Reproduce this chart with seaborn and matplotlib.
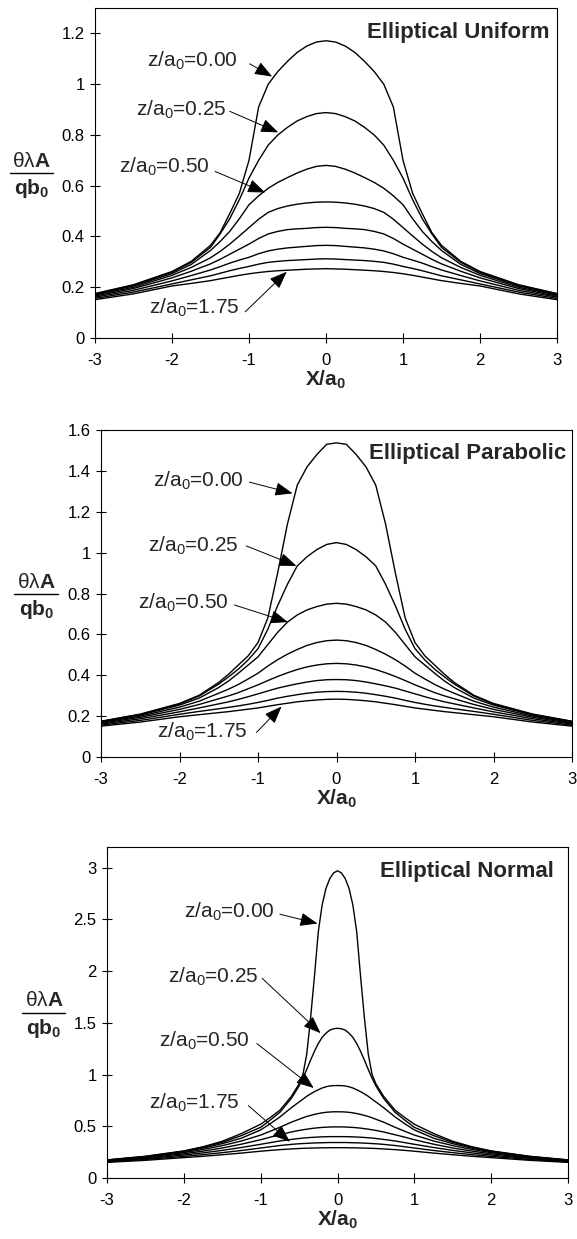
import numpy as np
import pandas as pd
import matplotlib
matplotlib.use("Agg")
import matplotlib.pyplot as plt
import seaborn as sns
from matplotlib.ticker import FuncFormatter, MultipleLocator

# ---------------- data ----------------
Z_LEVELS = [0.00, 0.25, 0.50, 0.75, 1.00, 1.25, 1.50, 1.75]

X_UNI = [-3, -2.5, -2, -1.75, -1.5, -1.375, -1.25, -1.125, -1, -0.875, -0.75, -0.625, -0.5, -0.375, -0.25, -0.125, 0,
         0.125, 0.25, 0.375, 0.5, 0.625, 0.75, 0.875, 1, 1.125, 1.25, 1.375, 1.5, 1.75, 2, 2.5, 3]
UNI_Z000 = [0.175, 0.210, 0.262, 0.302, 0.365, 0.415, 0.490, 0.570, 0.700, 0.910, 1.000, 1.050, 1.090, 1.125, 1.150, 1.166, 1.171,
            1.166, 1.150, 1.125, 1.090, 1.050, 1.000, 0.910, 0.700, 0.570, 0.490, 0.415, 0.365, 0.302, 0.262, 0.210, 0.175]
UNI_Z025 = [0.174, 0.208, 0.259, 0.298, 0.357, 0.410, 0.470, 0.545, 0.630, 0.700, 0.760, 0.800, 0.830, 0.855, 0.872, 0.884, 0.888,
            0.884, 0.872, 0.855, 0.830, 0.800, 0.760, 0.700, 0.630, 0.545, 0.470, 0.410, 0.357, 0.298, 0.259, 0.208, 0.174]
UNI_Z050 = [0.172, 0.205, 0.254, 0.290, 0.345, 0.380, 0.420, 0.470, 0.525, 0.560, 0.590, 0.613, 0.632, 0.650, 0.665, 0.676, 0.680,
            0.676, 0.665, 0.650, 0.632, 0.613, 0.590, 0.560, 0.525, 0.470, 0.420, 0.380, 0.345, 0.290, 0.254, 0.205, 0.172]
UNI_Z075 = [0.169, 0.200, 0.247, 0.278, 0.316, 0.341, 0.370, 0.402, 0.435, 0.468, 0.495, 0.510, 0.520, 0.527, 0.532, 0.535, 0.536,
            0.535, 0.532, 0.527, 0.520, 0.510, 0.495, 0.468, 0.435, 0.402, 0.370, 0.341, 0.316, 0.278, 0.247, 0.200, 0.169]
UNI_Z100 = [0.165, 0.195, 0.237, 0.263, 0.292, 0.310, 0.330, 0.350, 0.370, 0.392, 0.410, 0.420, 0.427, 0.430, 0.432, 0.435, 0.436,
            0.435, 0.432, 0.430, 0.427, 0.420, 0.410, 0.392, 0.370, 0.350, 0.330, 0.310, 0.292, 0.263, 0.237, 0.195, 0.165]
UNI_Z125 = [0.161, 0.188, 0.225, 0.246, 0.268, 0.281, 0.295, 0.307, 0.318, 0.332, 0.343, 0.350, 0.355, 0.358, 0.361, 0.364, 0.365,
            0.364, 0.361, 0.358, 0.355, 0.350, 0.343, 0.332, 0.318, 0.307, 0.295, 0.281, 0.268, 0.246, 0.225, 0.188, 0.161]
UNI_Z150 = [0.156, 0.181, 0.213, 0.229, 0.245, 0.255, 0.265, 0.274, 0.282, 0.291, 0.298, 0.302, 0.305, 0.307, 0.309, 0.311, 0.312,
            0.311, 0.309, 0.307, 0.305, 0.302, 0.298, 0.291, 0.282, 0.274, 0.265, 0.255, 0.245, 0.229, 0.213, 0.181, 0.156]
UNI_Z175 = [0.151, 0.174, 0.205, 0.215, 0.226, 0.233, 0.240, 0.247, 0.253, 0.258, 0.262, 0.265, 0.267, 0.269, 0.271, 0.272, 0.273,
            0.272, 0.271, 0.269, 0.267, 0.265, 0.262, 0.258, 0.253, 0.247, 0.240, 0.233, 0.226, 0.215, 0.205, 0.174, 0.151]

X_PAR = [-3, -2.5, -2, -1.75, -1.5, -1.375, -1.25, -1.125, -1, -0.875, -0.75, -0.625, -0.5, -0.375, -0.25, -0.125, 0,
         0.125, 0.25, 0.375, 0.5, 0.625, 0.75, 0.875, 1, 1.125, 1.25, 1.375, 1.5, 1.75, 2, 2.5, 3]
PAR_Z000 = [0.175, 0.210, 0.262, 0.302, 0.365, 0.405, 0.450, 0.495, 0.560, 0.680, 0.900, 1.140, 1.330, 1.420, 1.480, 1.530, 1.537,
            1.530, 1.480, 1.420, 1.330, 1.140, 0.900, 0.680, 0.560, 0.495, 0.450, 0.405, 0.365, 0.302, 0.262, 0.210, 0.175]
PAR_Z025 = [0.174, 0.208, 0.259, 0.298, 0.357, 0.392, 0.430, 0.475, 0.530, 0.625, 0.740, 0.845, 0.935, 0.980, 1.015, 1.040, 1.049,
            1.040, 1.015, 0.980, 0.935, 0.845, 0.740, 0.625, 0.530, 0.475, 0.430, 0.392, 0.357, 0.298, 0.259, 0.208, 0.174]
PAR_Z050 = [0.172, 0.205, 0.254, 0.288, 0.340, 0.372, 0.410, 0.450, 0.490, 0.550, 0.610, 0.660, 0.695, 0.720, 0.736, 0.748, 0.752,
            0.748, 0.736, 0.720, 0.695, 0.660, 0.610, 0.550, 0.490, 0.450, 0.410, 0.372, 0.340, 0.288, 0.254, 0.205, 0.172]
PAR_Z075 = [0.169, 0.200, 0.244, 0.273, 0.312, 0.332, 0.355, 0.382, 0.410, 0.445, 0.476, 0.503, 0.526, 0.546, 0.560, 0.569, 0.572,
            0.569, 0.560, 0.546, 0.526, 0.503, 0.476, 0.445, 0.410, 0.382, 0.355, 0.332, 0.312, 0.273, 0.244, 0.200, 0.169]
PAR_Z100 = [0.165, 0.194, 0.233, 0.257, 0.285, 0.299, 0.315, 0.334, 0.353, 0.374, 0.394, 0.412, 0.428, 0.441, 0.450, 0.456, 0.458,
            0.456, 0.450, 0.441, 0.428, 0.412, 0.394, 0.374, 0.353, 0.334, 0.315, 0.299, 0.285, 0.257, 0.233, 0.194, 0.165]
PAR_Z125 = [0.161, 0.187, 0.221, 0.240, 0.260, 0.270, 0.282, 0.295, 0.309, 0.323, 0.337, 0.348, 0.358, 0.367, 0.374, 0.378, 0.379,
            0.378, 0.374, 0.367, 0.358, 0.348, 0.337, 0.323, 0.309, 0.295, 0.282, 0.270, 0.260, 0.240, 0.221, 0.187, 0.161]
PAR_Z150 = [0.156, 0.179, 0.209, 0.223, 0.236, 0.243, 0.250, 0.258, 0.267, 0.277, 0.288, 0.297, 0.305, 0.312, 0.317, 0.320, 0.321,
            0.320, 0.317, 0.312, 0.305, 0.297, 0.288, 0.277, 0.267, 0.258, 0.250, 0.243, 0.236, 0.223, 0.209, 0.179, 0.156]
PAR_Z175 = [0.151, 0.171, 0.197, 0.207, 0.217, 0.222, 0.228, 0.234, 0.240, 0.248, 0.256, 0.263, 0.270, 0.275, 0.279, 0.282, 0.283,
            0.282, 0.279, 0.275, 0.270, 0.263, 0.256, 0.248, 0.240, 0.234, 0.228, 0.222, 0.217, 0.207, 0.197, 0.171, 0.151]

X_NOR = [-3, -2.5, -2, -1.75, -1.5, -1.25, -1, -0.875, -0.75, -0.6, -0.5, -0.45, -0.4, -0.35, -0.3, -0.25, -0.2, -0.15, -0.1, -0.05, 0,
         0.05, 0.1, 0.15, 0.2, 0.25, 0.3, 0.35, 0.4, 0.45, 0.5, 0.6, 0.75, 0.875, 1, 1.25, 1.5, 1.75, 2, 2.5, 3]
NOR_Z000 = [0.175, 0.210, 0.262, 0.302, 0.355, 0.430, 0.520, 0.585, 0.655, 0.790, 0.910, 1.000, 1.200, 1.550, 1.950, 2.380, 2.640, 2.800, 2.895, 2.950, 2.970,
            2.950, 2.895, 2.800, 2.640, 2.380, 1.950, 1.550, 1.200, 1.000, 0.910, 0.790, 0.655, 0.585, 0.520, 0.430, 0.355, 0.302, 0.262, 0.210, 0.175]
NOR_Z025 = [0.174, 0.208, 0.259, 0.298, 0.345, 0.410, 0.490, 0.560, 0.635, 0.770, 0.890, 0.965, 1.050, 1.140, 1.225, 1.300, 1.360, 1.400, 1.430, 1.443, 1.447,
            1.443, 1.430, 1.400, 1.360, 1.300, 1.225, 1.140, 1.050, 0.965, 0.890, 0.770, 0.635, 0.560, 0.490, 0.410, 0.345, 0.298, 0.259, 0.208, 0.174]
NOR_Z050 = [0.172, 0.205, 0.254, 0.289, 0.332, 0.385, 0.465, 0.525, 0.590, 0.680, 0.735, 0.762, 0.790, 0.813, 0.835, 0.853, 0.870, 0.882, 0.890, 0.893, 0.894,
            0.893, 0.890, 0.882, 0.870, 0.853, 0.835, 0.813, 0.790, 0.762, 0.735, 0.680, 0.590, 0.525, 0.465, 0.385, 0.332, 0.289, 0.254, 0.205, 0.172]
NOR_Z075 = [0.169, 0.200, 0.245, 0.276, 0.313, 0.358, 0.415, 0.452, 0.490, 0.540, 0.568, 0.582, 0.595, 0.605, 0.615, 0.623, 0.630, 0.635, 0.638, 0.640, 0.640,
            0.640, 0.638, 0.635, 0.630, 0.623, 0.615, 0.605, 0.595, 0.582, 0.568, 0.540, 0.490, 0.452, 0.415, 0.358, 0.313, 0.276, 0.245, 0.200, 0.169]
NOR_Z100 = [0.165, 0.194, 0.234, 0.260, 0.290, 0.327, 0.370, 0.395, 0.418, 0.445, 0.460, 0.466, 0.472, 0.477, 0.482, 0.486, 0.489, 0.491, 0.493, 0.494, 0.494,
            0.494, 0.493, 0.491, 0.489, 0.486, 0.482, 0.477, 0.472, 0.466, 0.460, 0.445, 0.418, 0.395, 0.370, 0.327, 0.290, 0.260, 0.234, 0.194, 0.165]
NOR_Z125 = [0.161, 0.187, 0.222, 0.243, 0.267, 0.295, 0.326, 0.342, 0.358, 0.373, 0.382, 0.386, 0.389, 0.392, 0.394, 0.396, 0.398, 0.399, 0.400, 0.400, 0.400,
            0.400, 0.400, 0.399, 0.398, 0.396, 0.394, 0.392, 0.389, 0.386, 0.382, 0.373, 0.358, 0.342, 0.326, 0.295, 0.267, 0.243, 0.222, 0.187, 0.161]
NOR_Z150 = [0.156, 0.179, 0.209, 0.226, 0.245, 0.266, 0.290, 0.302, 0.314, 0.325, 0.331, 0.333, 0.335, 0.337, 0.339, 0.340, 0.341, 0.342, 0.343, 0.343, 0.343,
            0.343, 0.343, 0.342, 0.341, 0.340, 0.339, 0.337, 0.335, 0.333, 0.331, 0.325, 0.314, 0.302, 0.290, 0.266, 0.245, 0.226, 0.209, 0.179, 0.156]
NOR_Z175 = [0.151, 0.171, 0.197, 0.210, 0.225, 0.241, 0.259, 0.267, 0.274, 0.281, 0.285, 0.287, 0.288, 0.289, 0.290, 0.291, 0.292, 0.292, 0.293, 0.293, 0.293,
            0.293, 0.293, 0.292, 0.292, 0.291, 0.290, 0.289, 0.288, 0.287, 0.285, 0.281, 0.274, 0.267, 0.259, 0.241, 0.225, 0.210, 0.197, 0.171, 0.151]

X_TICKS = [-3, -2, -1, 0, 1, 2, 3]
TITLES = ["Elliptical Uniform", "Elliptical Parabolic", "Elliptical Normal"]
LABELS = ["z/a$_0$=0.00", "z/a$_0$=0.25", "z/a$_0$=0.50", "z/a$_0$=1.75"]

# ---------------- style ----------------
sns.set_theme(style="ticks")
plt.rcParams["font.family"] = ["Liberation Sans", "DejaVu Sans"]
plt.rcParams["mathtext.fontset"] = "custom"
plt.rcParams["mathtext.rm"] = "Liberation Sans"
plt.rcParams["mathtext.it"] = "Liberation Sans"
plt.rcParams["mathtext.bf"] = "Liberation Sans:bold"
plt.rcParams["mathtext.default"] = "regular"


def make_df(xs, curves):
    rows = []
    for z, ys in zip(Z_LEVELS, curves):
        for x, y in zip(xs, ys):
            rows.append({"x": x, "value": y, "z": z})
    return pd.DataFrame(rows)


panels = [
    dict(xs=X_UNI, curves=[UNI_Z000, UNI_Z025, UNI_Z050, UNI_Z075, UNI_Z100, UNI_Z125, UNI_Z150, UNI_Z175],
         rect=[95, 8, 557, 338], ylim=1.3, ystep=0.2, title_pos=(2.9, 1.205),
         ann=[((-1.14, 1.09), (-0.99, 1.08), (-0.70, 1.03)),
              ((-1.29, 0.90), (-1.25, 0.893), (-0.62, 0.81)),
              ((-1.51, 0.676), (-1.44, 0.656), (-0.79, 0.573)),
              ((-1.12, 0.119), (-1.05, 0.103), (-0.51, 0.261))]),
    dict(xs=X_PAR, curves=[PAR_Z000, PAR_Z025, PAR_Z050, PAR_Z075, PAR_Z100, PAR_Z125, PAR_Z150, PAR_Z175],
         rect=[101, 430, 572, 757], ylim=1.6, ystep=0.2, title_pos=(2.93, 1.487),
         ann=[((-1.18, 1.35), (-1.11, 1.345), (-0.56, 1.29)),
              ((-1.24, 1.033), (-1.15, 1.033), (-0.51, 0.935)),
              ((-1.37, 0.754), (-1.30, 0.744), (-0.62, 0.66)),
              ((-1.13, 0.124), (-1.02, 0.12), (-0.70, 0.247))]),
    dict(xs=X_NOR, curves=[NOR_Z000, NOR_Z025, NOR_Z050, NOR_Z075, NOR_Z100, NOR_Z125, NOR_Z150, NOR_Z175],
         rect=[107, 847, 568, 1178], ylim=3.2, ystep=0.5, title_pos=(2.82, 2.96),
         ann=[((-0.81, 2.57), (-0.75, 2.55), (-0.26, 2.46)),
              ((-1.03, 1.94), (-0.98, 1.93), (-0.22, 1.40)),
              ((-1.14, 1.33), (-1.05, 1.30), (-0.31, 0.87)),
              ((-1.27, 0.73), (-1.16, 0.70), (-0.62, 0.35))]),
]

W, H = 577, 1239
fig = plt.figure(figsize=(W / 100, H / 100), dpi=100)
fmt = FuncFormatter(lambda v, p: f"{v:g}")

for i, p in enumerate(panels):
    l, t, r, b = p["rect"]
    ax = fig.add_axes([l / W, 1 - b / H, (r - l) / W, (b - t) / H])
    df = make_df(p["xs"], p["curves"])
    sns.lineplot(data=df, x="x", y="value", hue="z", palette=["black"] * len(Z_LEVELS),
                 legend=False, ax=ax, linewidth=1.0, estimator=None, sort=False)
    ax.set_xlim(-3, 3)
    ax.set_ylim(0, p["ylim"])
    ax.set_xticks(X_TICKS)
    ax.yaxis.set_major_locator(MultipleLocator(p["ystep"]))
    ax.xaxis.set_major_formatter(fmt)
    ax.yaxis.set_major_formatter(fmt)
    ax.tick_params(direction="inout", length=7, width=0.8, labelsize=12, colors="black")
    ax.tick_params(axis="x", pad=7)
    ax.tick_params(axis="y", pad=4)
    for s in ax.spines.values():
        s.set_visible(True)
        s.set_linewidth(0.8)
        s.set_color("black")
    ax.set_xlabel("X/a$_\\mathbf{0}$", fontsize=15, fontweight="bold", labelpad=1)
    ax.set_ylabel("")
    # fraction-style y label
    ax.text(-0.137, 0.535, "θλ$\\mathbf{A}$", transform=ax.transAxes, ha="center", va="center",
            fontsize=15)
    ax.plot([-0.185, -0.091], [0.5, 0.5], transform=ax.transAxes, clip_on=False,
            color="black", lw=1.0)
    ax.text(-0.137, 0.452, "$\\mathbf{qb_0}$", transform=ax.transAxes, ha="center", va="center",
            fontsize=15)
    ax.text(p["title_pos"][0], p["title_pos"][1], TITLES[i], ha="right", va="center",
            fontsize=16, fontweight="bold")
    for lab, (tpos, start, tip) in zip(LABELS, p["ann"]):
        ax.text(tpos[0], tpos[1], lab, ha="right", va="center", fontsize=15)
        ax.annotate("", xy=tip, xytext=start,
                    arrowprops=dict(arrowstyle="-|>,head_length=0.9,head_width=0.35",
                                    lw=0.7, color="black", shrinkA=0, shrinkB=0))

fig.savefig("out.png", dpi=100, facecolor="white")
